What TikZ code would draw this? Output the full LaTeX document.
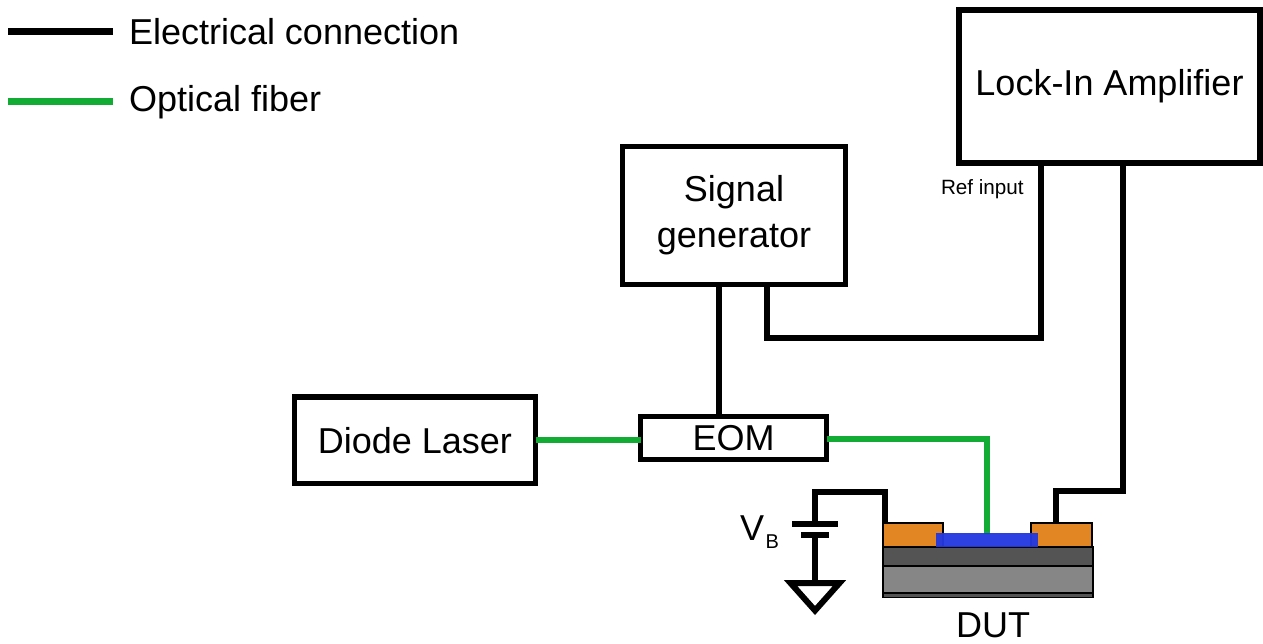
\documentclass[tikz,border=0pt]{standalone}
\usepackage{fontspec}
\setmainfont{Liberation Sans}
\definecolor{fibergreen}{RGB}{18,172,52}
\definecolor{gold}{RGB}{226,134,36}
\definecolor{chanblue}{RGB}{36,56,224}
\definecolor{darklayer}{RGB}{84,84,84}
\definecolor{midlayer}{RGB}{134,134,134}
\tikzset{
  box/.style={draw=black,fill=white,outer sep=0pt,inner sep=0pt,align=center,font=\fontsize{27}{34.5}\selectfont},
  label/.style={inner sep=0pt,outer sep=0pt,anchor=base west,font=\fontsize{27}{32}\selectfont},
  wire/.style={draw=black,line width=3.9pt,miter limit=10},
  fiber/.style={draw=fibergreen,line width=5pt},
  layer/.style={draw=black,line width=0.9pt,outer sep=0pt,inner sep=0pt},
  plate/.style={fill=black,outer sep=0pt,inner sep=0pt}
}
\begin{document}
\begin{tikzpicture}[x=0.75pt,y=-0.75pt]
\useasboundingbox (0,0) rectangle (1263,643);
% layers of the device
\node[layer,fill=darklayer,minimum width=157.5pt,minimum height=3.4pt,anchor=north west] (sub) at (883,593) {};
\node[layer,fill=midlayer,minimum width=157.5pt,minimum height=20.2pt,anchor=north west] (oxide) at (883,566) {};
\node[layer,fill=darklayer,minimum width=157.5pt,minimum height=14.2pt,anchor=north west] (gate) at (883,547) {};
\node[layer,fill=gold,minimum width=45pt,minimum height=18pt,anchor=north west] (source) at (883,523) {};
\node[layer,fill=gold,minimum width=45.7pt,minimum height=18pt,anchor=north west] (drain) at (1031,523) {};
% boxes
\node[box,line width=4.5pt,minimum width=225.75pt,minimum height=114.4pt] (lockin) at (1109.5,86.25) {Lock-In Amplifier};
\node[box,line width=3.9pt,minimum width=167.25pt,minimum height=103.5pt] (siggen) at (734,215.5) {Signal\\generator};
\node[box,line width=3.75pt,minimum width=139.5pt,minimum height=32.25pt] (eom) at (733.5,438) {EOM};
\node[box,line width=4.1pt,minimum width=180.75pt,minimum height=64.9pt] (laser) at (415,440.25) {Diode Laser};
% corners and free ends
\coordinate (drop) at (719,400);
\coordinate (refbl) at (767,338);
\coordinate (refbr) at (1041,338);
\coordinate (outr) at (1123,491);
\coordinate (outl) at (1056,491);
\coordinate (gl) at (815,492);
\coordinate (gr) at (885,492);
\coordinate (batt) at (815,524);
\coordinate (battb) at (815,535);
\coordinate (gnd) at (815,583);
\coordinate (fibl) at (540,440);
\coordinate (fibc) at (987,439);
\coordinate (fibe) at (987,534);
% electrical
\draw[wire,line width=4.5pt] (drop |- siggen.south) -- (drop |- eom.north);
\draw[wire,line join=miter] (refbl |- siggen.south) -- (refbl) -- (refbr) -- (refbr |- lockin.south);
\draw[wire] (outr |- lockin.south) -- (outr) -- (outl) -- (outl |- drain.north);
\draw[wire] (batt) -- (gl) -- (gr) -- (gr |- source.north);
\draw[wire] (battb) -- (gnd);
% fibers
\draw[fiber,line width=4.5pt] (laser.east |- fibl) -- (eom.west |- fibl);
\draw[fiber] (eom.east |- fibc) -- (fibc) -- (fibe);
% channel
\node[fill=chanblue,fill opacity=0.96,outer sep=0pt,inner sep=0pt,minimum width=76.5pt,minimum height=10.4pt,anchor=north west] (chan) at (936,533) {};
% battery and ground
\node[plate,minimum width=34.5pt,minimum height=4.5pt] (plateA) at (815,524) {};
\node[plate,minimum width=21pt,minimum height=4pt] (plateB) at (815,535) {};
\draw[line width=4.5pt,miter limit=10,line join=miter] (gnd) -- ++(-24.5,0) -- (815,610.5) -- (839.5,583) -- cycle;
\node[label] (vb) at (740,540) {V\hspace{1.2pt}\raisebox{-6pt}{\fontsize{15}{15}\selectfont B}};
\node[label,anchor=base] (dut) at (993,637) {DUT};
\node[label,font=\fontsize{15.5}{18}\selectfont] (ref) at (941,194) {Ref input};
% legend
\coordinate (lega) at (8,31.5);
\coordinate (legb) at (113,31.5);
\coordinate (legc) at (8,101.5);
\coordinate (legd) at (113,101.5);
\draw[wire,line width=5.25pt] (lega) -- (legb);
\draw[fiber,line width=5.25pt] (legc) -- (legd);
\node[label] (legelec) at (129,44.3) {Electrical connection};
\node[label] (legopt) at (129,111) {Optical fiber};
\end{tikzpicture}
\end{document}
